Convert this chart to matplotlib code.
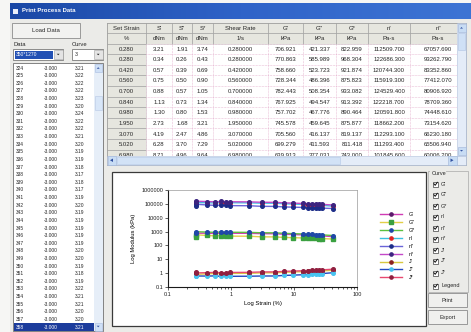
import matplotlib
matplotlib.use("Agg")
import matplotlib.pyplot as plt
from matplotlib.patches import Rectangle, Polygon
from matplotlib.transforms import Bbox, TransformedBbox
import numpy as np

W, H = 471, 332
FONT = "Liberation Sans"

# ---- process table (rows shown in the grid) ----
col_titles = ["Set Strain", "S'", "S\"", "S*", "Shear Rate", "G'", "G\"", "G*", "n'", "n\""]
col_units = ["%", "dNm", "dNm", "dNm", "1/s", "kPa", "kPa", "kPa", "Pa-s", "Pa-s"]
set_strain = [0.280, 0.280, 0.420, 0.560, 0.700, 0.840, 0.980, 1.950, 3.070, 5.020, 6.980]
s_elastic = [3.21, 0.34, 0.57, 0.75, 0.88, 1.13, 1.30, 2.73, 4.19, 6.28, 8.71]
s_viscous = [1.91, 0.26, 0.39, 0.50, 0.57, 0.73, 0.80, 1.68, 2.47, 3.70, 4.96]
s_complex = [3.74, 0.43, 0.69, 0.90, 1.05, 1.34, 1.53, 3.21, 4.86, 7.29, 9.64]
shear_rate = [0.280, 0.280, 0.420, 0.560, 0.700, 0.840, 0.980, 1.950, 3.070, 5.020, 6.980]
tbl_g1 = [706.921, 770.863, 758.660, 728.344, 782.443, 767.925, 757.702, 745.578, 705.560, 699.279, 639.913]
tbl_g2 = [421.337, 585.989, 523.723, 486.396, 508.354, 494.547, 467.776, 459.645, 416.137, 411.593, 377.031]
tbl_gs = [822.959, 968.304, 921.874, 875.823, 933.082, 913.392, 890.464, 875.877, 819.137, 811.418, 743.000]
tbl_n1 = [112509.700, 122686.300, 120744.300, 115919.300, 124529.400, 122218.700, 120591.800,
          118662.200, 112293.100, 111293.400, 101845.600]
tbl_n2 = [67057.690, 93262.790, 83352.860, 77412.070, 80906.920, 78709.360, 74448.610,
          73154.620, 66230.180, 65506.940, 60006.200]

# ---- data list on the left ----
list_index = list(range(324, 359))
list_temp = [-3.000] * 35
list_torque = [3.21, 3.22, 3.22, 3.22, 3.23, 3.20, 3.24, 3.22, 3.22, 3.21, 3.20, 3.19, 3.19,
               3.18, 3.17, 3.18, 3.17, 3.19, 3.20, 3.19, 3.19, 3.19, 3.19, 3.19, 3.20, 3.20,
               3.19, 3.18, 3.19, 3.22, 3.21, 3.21, 3.20, 3.20, 3.21]

# ---- chart series ----
strain = [0.28, 0.28, 0.42, 0.56, 0.70, 0.84, 0.98, 1.95, 3.07, 5.02, 6.98, 9.77, 13.95,
          16.74, 19.53, 22.32, 25.11, 27.90, 41.86]
g_prime = [706.9, 770.9, 758.7, 728.3, 782.4, 767.9, 757.7, 745.6, 705.6, 699.3, 639.9, 610.0,
           575.0, 555.0, 535.0, 518.0, 502.0, 488.0, 430.0]
g_double = [421.3, 586.0, 523.7, 486.4, 508.4, 494.5, 467.8, 459.6, 416.1, 411.6, 377.0, 362.0,
            345.0, 336.0, 328.0, 321.0, 315.0, 310.0, 290.0]
g_star = [823.0, 968.3, 921.9, 875.8, 933.1, 913.4, 890.5, 875.9, 819.1, 811.4, 743.0, 709.3,
          670.6, 648.8, 627.5, 609.4, 592.6, 578.1, 518.7]
n_prime = [112510, 122686, 120744, 115919, 124529, 122219, 120592, 118662, 112293, 111293,
           101846, 97085, 91514, 88331, 85148, 82442, 79895, 77667, 68436]
n_double = [67058, 93263, 83353, 77412, 80907, 78709, 74449, 73155, 66230, 65507, 60006,
            57614, 54908, 53476, 52203, 51089, 50134, 49338, 46155]
n_star = [130977, 154110, 146720, 139391, 148504, 145370, 141721, 139400, 130369, 129140,
          118252, 112888, 106729, 103259, 99869, 96988, 94315, 92007, 82554]
j_prime = [1.044, 0.822, 0.893, 0.950, 0.899, 0.921, 0.956, 0.972, 1.052, 1.062, 1.159, 1.212,
           1.279, 1.319, 1.359, 1.395, 1.429, 1.460, 1.599]
j_double = [0.622, 0.625, 0.616, 0.634, 0.584, 0.593, 0.590, 0.599, 0.620, 0.625, 0.683, 0.720,
            0.767, 0.798, 0.833, 0.864, 0.897, 0.928, 1.078]
j_star = [1.215, 1.033, 1.085, 1.142, 1.072, 1.095, 1.123, 1.142, 1.221, 1.232, 1.346, 1.410,
          1.491, 1.541, 1.594, 1.641, 1.688, 1.730, 1.928]

curve_names = ["G'", "G\"", "G*", "n'", "n\"", "n*", "J'", "J\"", "J*"]
curve_data = [g_prime, g_double, g_star, n_prime, n_double, n_star, j_prime, j_double, j_star]
# (line colour, marker colour, marker)
curve_style = [("#d03cb4", "#5a1a6a", "o"), ("#e2d048", "#3aa040", "s"), ("#5cc040", "#1f48a8", "o"),
               ("#3cc0e0", "#e02424", "o"), ("#6a64d8", "#1c2c88", "o"), ("#c448c8", "#3c2480", "o"),
               ("#d8c840", "#8a2020", "o"), ("#2448c0", "#48c4f0", "o"), ("#e84870", "#902040", "o")]
xtick_vals = [0.1, 1, 10, 100]
xtick_labels = ["0.1", "1", "10", "100"]
ytick_vals = [0.1, 1, 10, 100, 1000, 10000, 100000, 1000000]
ytick_labels = ["0.1", "1", "10", "100", "1000", "10000", "100000", "1000000"]

fig = plt.figure(figsize=(W / 100, H / 100), dpi=100)
bg = fig.add_axes([0, 0, 1, 1])
bg.set_axis_off()
bg.set_xlim(0, W)
bg.set_ylim(H, 0)


def box(x0, y0, x1, y1, fc, ec="none", lw=0.6, z=1, clip=None):
    p = Rectangle((x0, y0), x1 - x0, y1 - y0, facecolor=fc, edgecolor=ec, lw=lw, zorder=z)
    bg.add_patch(p)
    if clip is not None:
        p.set_clip_box(TransformedBbox(Bbox.from_extents(*clip), bg.transData))
    return p


def label(x, y, s, size=4.3, ha="left", color="#262626", weight="normal", z=5, clip=None):
    t = bg.text(x, y, s, fontsize=size, ha=ha, va="center", color=color, weight=weight,
                zorder=z, family=FONT)
    if clip is not None:
        t.set_clip_box(TransformedBbox(Bbox.from_extents(*clip), bg.transData))
        t.set_clip_on(True)
    return t


def arrow(cx, cy, up, size=1.6, color="#3050a0", z=8):
    d = -size if up else size
    bg.add_patch(Polygon([(cx - size, cy - d / 2), (cx + size, cy - d / 2), (cx, cy + d / 2)],
                         closed=True, facecolor=color, edgecolor="none", zorder=z))


# window background and title bar
box(0, 0, W, H, "#f6f6f4", z=0)
box(10, 3, W, H, "#ebebe8", z=0.5)
grad = np.linspace(0, 1, 256).reshape(1, -1)
bg.imshow(grad, extent=[10, W, 19, 3], aspect="auto", zorder=0.8,
          cmap=matplotlib.colors.LinearSegmentedColormap.from_list("tb", ["#1a48a6", "#2f63c8", "#3d74d4"]))
box(13, 8.5, 18, 13.5, "#e8eefc", z=2)
label(22, 11, "Print Process Data", size=4.3, color="white", weight="bold")

# load button and selectors
box(12, 23, 80, 38, "#f2f2f0", ec="#8c8c8c", lw=0.6, z=2)
label(46, 30.5, "Load Data", size=4.3, ha="center")
label(13, 44, "Data", size=4.2)
label(72, 44, "Curve", size=4.2)
box(13, 49, 63, 60, "white", ec="#7a7a7a", lw=0.6, z=2)
box(14.5, 50.5, 53, 58.5, "#2250b4", z=3)
label(16, 54.5, "350*1270", size=3.6, color="white")
box(54, 50, 62.5, 59, "#e4e4e4", ec="#a0a0a0", lw=0.4, z=3)
arrow(58.2, 54.5, up=False, size=1.4, color="#202020")
box(72, 49, 103, 60, "white", ec="#7a7a7a", lw=0.6, z=2)
label(75, 54.5, "3", size=3.8)
box(94, 50, 102.5, 59, "#e4e4e4", ec="#a0a0a0", lw=0.4, z=3)
arrow(98.2, 54.5, up=False, size=1.4, color="#202020")

# list box
box(13, 63, 103, 331, "white", ec="#707070", lw=0.6, z=2)
box(94, 63.5, 102.5, 330.5, "#e6eef8", z=3)
box(94.5, 64, 102, 72, "#cfe0f6", ec="#a8bce0", lw=0.4, z=3.5)
arrow(98.2, 68, up=True, size=1.5)
box(94.5, 322.5, 102, 330.5, "#cfe0f6", ec="#a8bce0", lw=0.4, z=3.5)
arrow(98.2, 326.5, up=False, size=1.5)
box(95, 96, 101.5, 110, "#d8e6f8", ec="#b8c8e4", lw=0.4, z=3.5)
row_y0, row_dy = 68.0, 7.62
for i, (idx, tmp, trq) in enumerate(zip(list_index, list_temp, list_torque)):
    y = row_y0 + i * row_dy
    colr = "#262626"
    if i == len(list_index) - 1:
        box(13.5, y - 3.9, 93.5, y + 3.9, "#1c3c9c", z=3)
        colr = "white"
    label(16, y, str(idx), size=3.5, color=colr)
    label(58, y, f"{tmp:.3f}", size=3.5, ha="right", color=colr)
    label(84, y, f"{trq:.2f}", size=3.5, ha="right", color=colr)

# process table
col_edges = [107, 146, 172, 192, 213, 268, 303, 336, 368, 410, 466]
tbl_left, tbl_right, tbl_top, tbl_bottom = 107, 457, 23, 155.5
head_h = 10.3
body_top, body_dy = 43.6, 10.6
box(tbl_left, tbl_top, 466, 165, "white", ec="#808080", lw=0.6, z=1.5)
clip = (tbl_left, tbl_top, tbl_right, tbl_bottom)
cols = [(set_strain, "{:.3f}"), (s_elastic, "{:.2f}"), (s_viscous, "{:.2f}"), (s_complex, "{:.2f}"),
        (shear_rate, "{:.6f}"), (tbl_g1, "{:.3f}"), (tbl_g2, "{:.3f}"), (tbl_gs, "{:.3f}"),
        (tbl_n1, "{:.3f}"), (tbl_n2, "{:.3f}")]
for c, (vals, fmt) in enumerate(cols):
    x0, x1 = col_edges[c], col_edges[c + 1]
    xc = (x0 + x1) / 2
    for r in range(2):
        y0 = tbl_top + r * head_h
        box(x0, y0, x1, y0 + head_h, "#e6e6df", ec="#9a9a9a", lw=0.4, z=2, clip=clip)
        txt = col_titles[c] if r == 0 else col_units[c]
        label(xc, y0 + head_h / 2 + 0.3, txt, size=4.3, ha="center", z=6, clip=clip)
    for r, v in enumerate(vals):
        y0 = body_top + r * body_dy
        if c == 0:
            box(x0, y0, x1, y0 + body_dy, "#e6e6df", ec="#9a9a9a", lw=0.4, z=2, clip=clip)
        else:
            p = box(x0, y0, x1, y0 + body_dy, "white", ec="#e2a6c8", lw=0.4, z=2, clip=clip)
            p.set_linestyle(":")
        label(xc, y0 + body_dy / 2 + 0.3, fmt.format(v), size=4.3, ha="center", z=6, clip=clip)

# table scrollbars
box(457, 23, 466, 155.5, "#e4ecf8", ec="#b0c0dc", lw=0.4, z=7)
box(457.5, 23.5, 465.5, 32, "#c8dcf4", ec="#a0b4d8", lw=0.4, z=7.5)
arrow(461.5, 27.8, up=True, size=1.5)
box(458, 33, 465, 50, "#cfe0f6", ec="#b0c4e4", lw=0.4, z=7.5)
box(457.5, 146.5, 465.5, 155, "#c8dcf4", ec="#a0b4d8", lw=0.4, z=7.5)
arrow(461.5, 150.8, up=False, size=1.5)
box(107, 155.5, 466, 165, "#e4ecf8", ec="#b0c0dc", lw=0.4, z=7)
box(107.5, 156, 116, 164.5, "#c8dcf4", ec="#a0b4d8", lw=0.4, z=7.5)
bg.add_patch(Polygon([(110, 160.25), (113, 158.5), (113, 162)], facecolor="#3050a0", zorder=8))
box(117, 156.8, 340, 163.7, "#d2e2f6", ec="#b4c8e6", lw=0.4, z=7.5)
box(448, 156, 456.5, 164.5, "#c8dcf4", ec="#a0b4d8", lw=0.4, z=7.5)
bg.add_patch(Polygon([(453.5, 160.25), (450.5, 158.5), (450.5, 162)], facecolor="#3050a0", zorder=8))

# chart panel
box(112, 172, 426, 326, "white", ec="#3a3a3a", lw=0.9, z=1)

# curve selection group
box(428, 171, 468, 292, "none", ec="#a8a8a8", lw=0.5, z=2)
box(430, 170, 446, 176, "#ebebe8", z=2.5)
label(432, 173.5, "Curve", size=4.0, z=3)
check_names = curve_names + ["Legend"]
check_y = [184, 195, 206, 217, 228, 239, 250, 261, 273, 286]
for name, y in zip(check_names, check_y):
    box(433, y - 2.5, 438, y + 2.5, "white", ec="#404040", lw=0.5, z=3)
    bg.plot([433.9, 435.2, 437.3], [y - 0.2, y + 1.3, y - 1.7], color="#101010", lw=0.7, zorder=4)
    label(441, y, name, size=4.0, z=4)
for y0, y1, txt in [(293, 307, "Print"), (310, 324, "Export")]:
    box(428, y0, 467, y1, "#f0f0ee", ec="#8c8c8c", lw=0.6, z=3)
    label(447.5, (y0 + y1) / 2 + 0.3, txt, size=4.0, ha="center", z=4)

bg.set_xlim(0, W)
bg.set_ylim(H, 0)

# log-log chart
ax = fig.add_axes([168 / W, 1 - 287 / H, (357 - 168) / W, (287 - 190) / H])
handles = []
for name, vals, (lc, mc, mk) in zip(curve_names, curve_data, curve_style):
    h, = ax.plot(strain, vals, color=lc, lw=1.0, marker=mk, markersize=2.6,
                 markerfacecolor=mc, markeredgecolor=mc, label=name)
    handles.append(h)
ax.set_xscale("log")
ax.set_yscale("log")
ax.set_xlim(0.1, 100)
ax.set_ylim(0.1, 1000000)
ax.set_xticks(xtick_vals, xtick_labels)
ax.set_yticks(ytick_vals, ytick_labels)
ax.yaxis.set_minor_locator(matplotlib.ticker.NullLocator())
ax.tick_params(which="both", labelsize=4.0, length=2, width=0.5, pad=1.5, colors="#202020")
ax.tick_params(which="minor", length=1.2)
for s in ["left", "bottom"]:
    ax.spines[s].set_color("#1a1a1a")
    ax.spines[s].set_linewidth(0.8)
for s in ["top", "right"]:
    ax.spines[s].set_color("#9a9a9a")
    ax.spines[s].set_linewidth(0.5)
ax.set_xlabel("Log Strain (%)", fontsize=4.2, labelpad=3, family=FONT)
ax.set_ylabel("Log Modulus (kPa)", fontsize=4.2, labelpad=4, family=FONT)
for t in ax.get_xticklabels() + ax.get_yticklabels():
    t.set_family(FONT)

fig.legend(handles=handles, loc="upper left", bbox_to_anchor=(380 / W, 1 - 212 / H),
           frameon=False, prop={"family": FONT, "size": 3.8}, handlelength=4.2,
           handletextpad=1.2, labelspacing=0.55, borderpad=0, borderaxespad=0, markerscale=0.9)

fig.savefig("out.png", dpi=100)
